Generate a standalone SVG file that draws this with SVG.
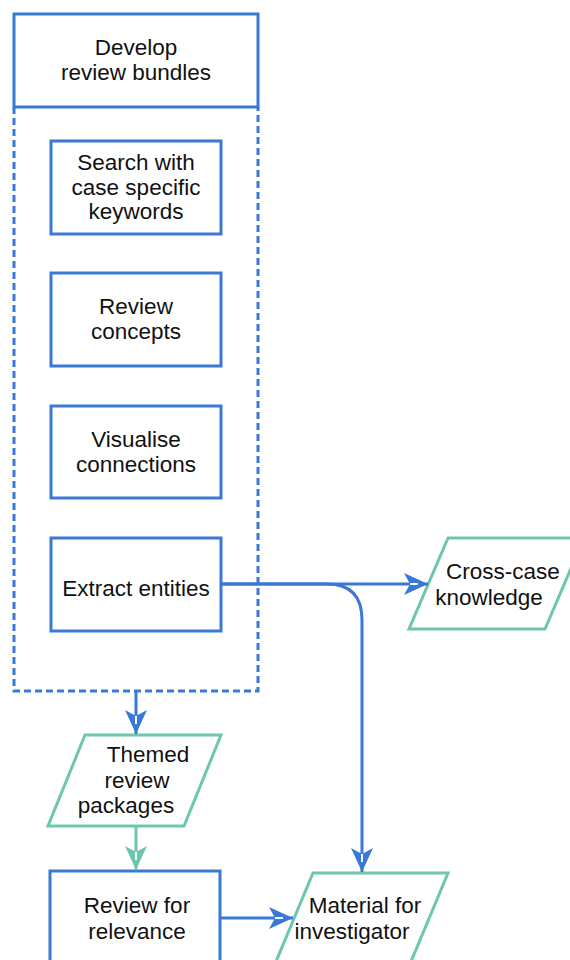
<svg xmlns="http://www.w3.org/2000/svg" width="570" height="960" viewBox="0 0 570 960">
  <style>
    .box { fill: #ffffff; stroke: #3a78d6; stroke-width: 3; }
    .dash { fill: none; stroke: #3a78d6; stroke-width: 3; stroke-dasharray: 7 4; }
    .data { fill: #ffffff; stroke: #6cc7ad; stroke-width: 3; }
    .lbl { font-family: "Liberation Sans", Arial, sans-serif; font-size: 22.5px; fill: #111111; text-anchor: middle; }
    .flow { fill: none; stroke: #3a78d6; stroke-width: 3; }
    .flow-g { fill: none; stroke: #6cc7ad; stroke-width: 3; }
  </style>
  <defs>
    <marker id="arrow-blue" viewBox="-1 -12 26 24" refX="24" refY="0" markerWidth="26" markerHeight="24" markerUnits="userSpaceOnUse" orient="auto">
      <path d="M24,0 L0,-11 L6,0 L0,11 Z" fill="#3a78d6"/>
      <path d="M6,0 H14" stroke="#ffffff" stroke-width="2"/>
    </marker>
    <marker id="arrow-green" viewBox="-1 -12 26 24" refX="24" refY="0" markerWidth="26" markerHeight="24" markerUnits="userSpaceOnUse" orient="auto">
      <path d="M24,0 L0,-11 L6,0 L0,11 Z" fill="#6cc7ad"/>
      <path d="M6,0 H14" stroke="#ffffff" stroke-width="2"/>
    </marker>
  </defs>

  <!-- container: title block with dashed body -->
  <g id="develop-bundles">
    <path class="dash" d="M14,107 V691 H258 V107"/>
    <rect class="box" x="14" y="14" width="244" height="93"/>
    <text class="lbl" x="136" y="55">Develop</text>
    <text class="lbl" x="136" y="80">review bundles</text>
  </g>

  <g id="search-keywords">
    <rect class="box" x="51" y="141" width="170" height="93"/>
    <text class="lbl" x="136" y="170">Search with</text>
    <text class="lbl" x="136" y="195">case specific</text>
    <text class="lbl" x="136" y="219">keywords</text>
  </g>

  <g id="review-concepts">
    <rect class="box" x="51" y="273" width="170" height="93"/>
    <text class="lbl" x="136" y="314">Review</text>
    <text class="lbl" x="136" y="339">concepts</text>
  </g>

  <g id="visualise-connections">
    <rect class="box" x="51" y="406" width="170" height="92"/>
    <text class="lbl" x="136" y="447">Visualise</text>
    <text class="lbl" x="136" y="472">connections</text>
  </g>

  <g id="extract-entities">
    <rect class="box" x="51" y="538" width="170" height="93"/>
    <text class="lbl" x="136" y="596">Extract entities</text>
  </g>

  <g id="cross-case-knowledge">
    <polygon class="data" points="448,538 584,538 545,629 409,629"/>
    <text class="lbl" x="503" y="579">Cross-case</text>
    <text class="lbl" x="489" y="605">knowledge</text>
  </g>

  <g id="themed-packages">
    <polygon class="data" points="85,735 221,735 184,826 48,826"/>
    <text class="lbl" x="148" y="762">Themed</text>
    <text class="lbl" x="137" y="788">review</text>
    <text class="lbl" x="126" y="813">packages</text>
  </g>

  <g id="review-relevance">
    <rect class="box" x="50" y="871" width="170" height="93"/>
    <text class="lbl" x="137" y="913">Review for</text>
    <text class="lbl" x="137" y="939">relevance</text>
  </g>

  <g id="material-investigator">
    <polygon class="data" points="313,873 448,873 410,964 275,964"/>
    <text class="lbl" x="365" y="913">Material for</text>
    <text class="lbl" x="352" y="939">investigator</text>
  </g>

  <g id="connectors">
    <path class="flow" d="M136,692 V734" marker-end="url(#arrow-blue)"/>
    <path class="flow-g" d="M136,827 V870" marker-end="url(#arrow-green)"/>
    <path class="flow" d="M221,584 H428" marker-end="url(#arrow-blue)"/>
    <path class="flow" d="M221,584 H327 Q362,584 362,620 V872" marker-end="url(#arrow-blue)"/>
    <path class="flow" d="M220,918 H293" marker-end="url(#arrow-blue)"/>
  </g>
</svg>
